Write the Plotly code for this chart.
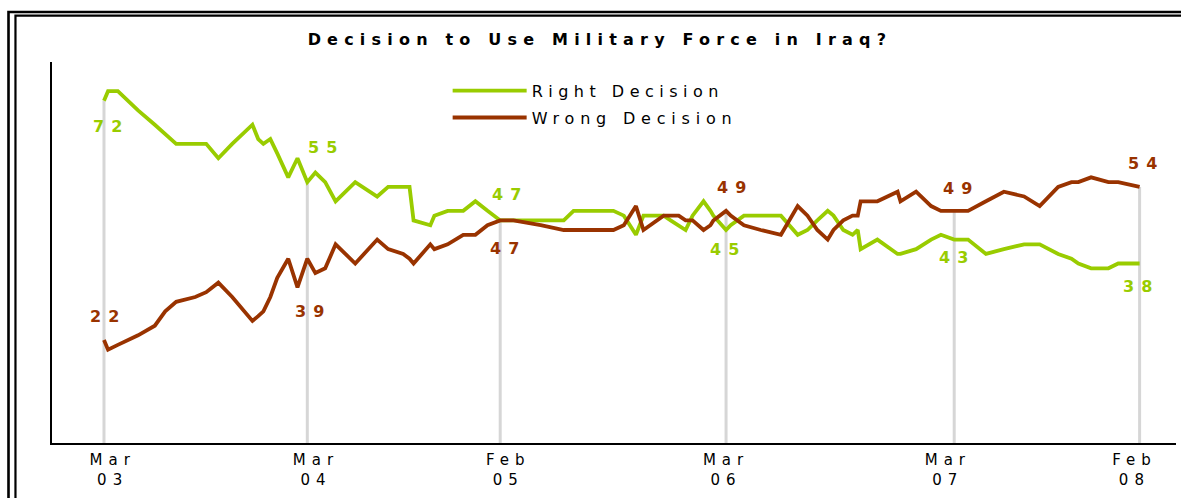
import plotly.graph_objects as go

# Poll dates with the share saying the decision was right / wrong (%)
poll_dates = [
    "2003-03-20", "2003-03-27", "2003-04-13", "2003-05-18", "2003-06-16",
    "2003-07-04", "2003-07-23", "2003-08-25", "2003-09-13", "2003-10-04",
    "2003-10-28", "2003-12-02", "2003-12-12", "2003-12-21", "2004-01-02",
    "2004-01-14", "2004-02-02", "2004-02-18", "2004-03-06", "2004-03-20",
    "2004-04-06", "2004-04-24", "2004-05-28", "2004-07-05", "2004-07-24",
    "2004-08-19", "2004-08-30", "2004-09-06", "2004-10-05", "2004-10-12",
    "2004-11-04", "2004-12-01", "2004-12-22", "2005-01-12", "2005-02-03",
    "2005-02-26", "2005-04-14", "2005-05-24", "2005-06-10", "2005-07-04",
    "2005-08-18", "2005-09-05", "2005-09-26", "2005-10-09", "2005-11-13",
    "2005-11-25", "2005-12-09", "2005-12-21", "2006-01-02", "2006-01-21",
    "2006-02-02", "2006-02-07", "2006-03-01", "2006-03-09", "2006-04-01",
    "2006-04-30", "2006-06-04", "2006-07-03", "2006-07-20", "2006-08-06",
    "2006-08-24", "2006-09-03", "2006-09-20", "2006-10-06", "2006-10-15",
    "2006-10-20", "2006-11-18", "2006-12-23", "2006-12-28", "2007-01-24",
    "2007-02-19", "2007-03-08", "2007-03-31", "2007-04-24", "2007-05-25",
    "2007-06-25", "2007-07-30", "2007-08-26", "2007-09-27", "2007-10-20",
    "2007-11-01", "2007-11-23", "2007-12-23", "2008-01-09", "2008-02-15",
]
right_decision = [
    72, 74, 74, 70, 67, 65, 63, 63, 63, 60,
    63, 67, 64, 63, 64, 61, 56, 60, 55, 57,
    55, 51, 55, 52, 54, 54, 54, 47, 46, 48,
    49, 49, 51, 49, 47, 47, 47, 47, 49, 49,
    49, 48, 44, 48, 48, 47, 46, 45, 48, 51,
    49, 48, 45, 46, 48, 48, 48, 44, 45, 47,
    49, 48, 45, 44, 45, 41, 43, 40, 40, 41,
    43, 44, 43, 43, 40, 41, 42, 42, 40, 39,
    38, 37, 37, 38, 38,
]
wrong_decision = [
    22, 20, 21, 23, 25, 28, 30, 31, 32, 34,
    31, 26, 27, 28, 31, 35, 39, 33, 39, 36,
    37, 42, 38, 43, 41, 40, 39, 38, 42, 41,
    42, 44, 44, 46, 47, 47, 46, 45, 45, 45,
    45, 46, 50, 45, 48, 48, 48, 47, 47, 45,
    46, 47, 49, 48, 46, 45, 44, 50, 48, 45,
    43, 45, 47, 48, 48, 51, 51, 53, 51, 53,
    50, 49, 49, 49, 51, 53, 52, 50, 54, 55,
    55, 56, 55, 55, 54,
]

# Highlighted polls: drop lines and value labels
marker_dates = ["2003-03-20", "2004-03-06", "2005-02-03",
                "2006-03-01", "2007-03-31", "2008-02-15"]
# x-axis tick positions and their labels
tick_dates = ["2003-04-04", "2004-03-21", "2005-02-17",
              "2006-03-01", "2007-03-20", "2008-02-06"]
tick_labels = ["Mar<br>03", "Mar<br>04", "Feb<br>05",
               "Mar<br>06", "Mar<br>07", "Feb<br>08"]
# label offsets in px (dx, dy) for the right / wrong labels
right_offsets = [(4, -26), (15, 35), (6, 26), (-2, -19), (-1, -18), (-2, -23)]
wrong_offsets = [(1, 24), (2, -53), (4, -28), (5, 23), (3, 22), (3, 23)]

GREEN = "#99cc00"
BROWN = "#993300"
FONT = "DejaVu Sans"
Y_MIN, Y_MAX = 0.5, 80.1
LABEL_SPACING = 7


def spaced(text, px):
    return f'<span style="letter-spacing:{px}px">{text}</span>'


fig = go.Figure()

# grey drop lines under the highlighted polls
for d in marker_dates:
    i = poll_dates.index(d)
    top = max(right_decision[i], wrong_decision[i])
    fig.add_trace(go.Scatter(
        x=[d, d], y=[Y_MIN, top], mode="lines",
        line=dict(color="#d6d6d6", width=3),
        showlegend=False, hoverinfo="skip",
    ))

fig.add_trace(go.Scatter(
    x=poll_dates, y=right_decision, mode="lines",
    name=spaced("Right Decision", 5.5), legendgroup="right",
    line=dict(color=GREEN, width=3.8),
))
fig.add_trace(go.Scatter(
    x=poll_dates, y=wrong_decision, mode="lines",
    name=spaced("Wrong Decision", 5.8), legendgroup="wrong",
    line=dict(color=BROWN, width=3.8),
))

annotations = []
for k, d in enumerate(marker_dates):
    i = poll_dates.index(d)
    for vals, offs, col in ((right_decision, right_offsets, GREEN),
                            (wrong_decision, wrong_offsets, BROWN)):
        dx, dy = offs[k]
        annotations.append(dict(
            x=d, y=vals[i], xref="x", yref="y",
            text="<b>" + spaced(str(vals[i]), LABEL_SPACING) + "</b>",
            showarrow=False, xshift=dx + LABEL_SPACING / 2, yshift=dy,
            font=dict(family=FONT, size=16, color=col),
        ))

# double frame around the chart
shapes = [
    dict(type="rect", xref="paper", yref="paper",
         x0=-0.0387, x1=1.2, y0=-0.3, y1=1.1312,
         line=dict(color="black", width=2.6)),
    dict(type="rect", xref="paper", yref="paper",
         x0=-0.0325, x1=1.2, y0=-0.3, y1=1.1215,
         line=dict(color="black", width=2.2)),
]

fig.update_layout(
    width=1181, height=498,
    margin=dict(l=52, r=5, t=62, b=55),
    paper_bgcolor="white", plot_bgcolor="white",
    title=dict(
        text="<b>" + spaced("Decision to Use Military Force in Iraq?", 6.2) + "</b>",
        x=0.508, xanchor="center", y=0.921, yanchor="middle",
        font=dict(family=FONT, size=16, color="black"),
    ),
    legend=dict(
        x=0.352, y=0.969, xanchor="left", yanchor="top",
        bgcolor="rgba(0,0,0,0)", itemwidth=74,
        traceorder="grouped", tracegroupgap=3,
        font=dict(family=FONT, size=16, color="black"),
    ),
    xaxis=dict(
        type="date", range=["2002-12-20", "2008-04-18"],
        showgrid=False, zeroline=False,
        showline=True, linecolor="black", linewidth=2,
        tickvals=tick_dates,
        ticktext=[spaced(t, 6) for t in tick_labels],
        ticks="", ticklabelstandoff=2,
        tickfont=dict(family=FONT, size=15, color="black"),
    ),
    yaxis=dict(
        range=[Y_MIN, Y_MAX], showgrid=False, zeroline=False,
        showline=True, linecolor="black", linewidth=2,
        showticklabels=False, ticks="",
    ),
    annotations=annotations,
    shapes=shapes,
    showlegend=True,
)

fig.write_html("out.html")
